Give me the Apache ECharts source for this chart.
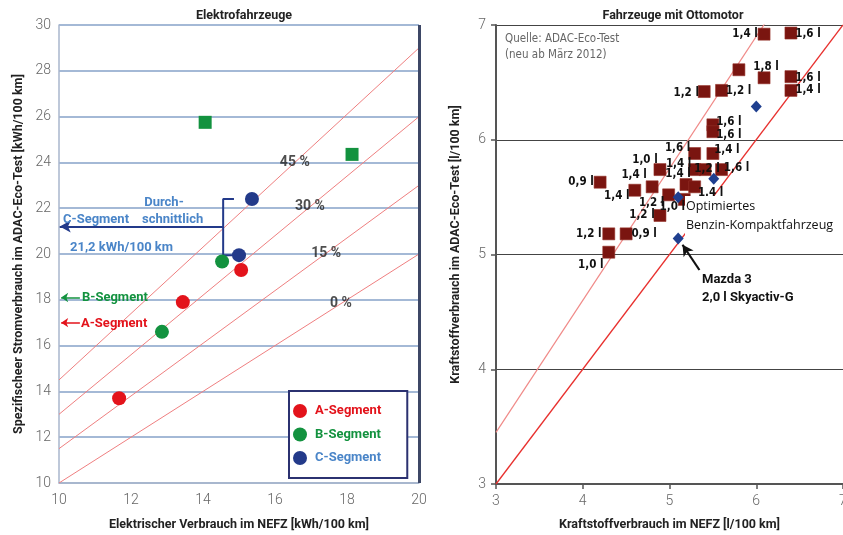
<!DOCTYPE html>
<html><head><meta charset="utf-8">
<script src="https://cdn.jsdelivr.net/npm/echarts@6/dist/echarts.min.js"></script>
<style>html,body{margin:0;padding:0;background:#fff}#c{width:843px;height:535px}</style>
</head><body><div id="c"></div>
<script>
// ---------- Left chart: Elektrofahrzeuge ----------
const pctLevels = [0, 15, 30, 45];              // % lines: ADAC = NEFZ * (1 + p)
const pctLabelX = [17.83, 17.42, 16.97, 16.55];  // where each % label sits on its line
const segA = [[11.67, 13.7], [13.44, 17.9], [15.06, 19.3]];
const segB = [[12.86, 16.6], [14.53, 19.67]];
const segBSquares = [[14.06, 25.75], [18.14, 24.35]];
const segC = [[15.0, 19.95], [15.36, 22.4]];
const segAvgA = 17.0, segAvgB = 18.1, segAvgC = 21.2;
const leftXRange = [10, 20];
const leftYRange = [10, 30];

// ---------- Right chart: Fahrzeuge mit Ottomotor ----------
const ottoNefz = [6.09, 6.40, 5.80, 6.09, 6.40, 6.40, 5.40, 5.60, 5.50, 5.50, 5.29, 5.50, 4.89, 5.29, 5.41, 5.60,
                  4.20, 4.60, 4.80, 4.99, 5.19, 5.29, 5.17, 4.89, 4.30, 4.50, 4.30];
const ottoEco  = [6.92, 6.93, 6.61, 6.54, 6.55, 6.43, 6.42, 6.43, 6.13, 6.07, 5.88, 5.88, 5.74, 5.74, 5.74, 5.74,
                  5.63, 5.56, 5.59, 5.52, 5.61, 5.59, 5.48, 5.34, 5.18, 5.18, 5.02];
const ottoDisp = ['1,4 l', '1,6 l', '', '1,8 l', '1,6 l', '1,4 l', '1,2 l', '1,2 l', '1,6 l', '1,6 l', '1,6 l', '1,4 l', '1,0 l', '1,4 l', '1,2 l', '1,6 l',
                  '0,9 l', '1,4 l', '1,4 l', '1,2 l', '1,4 l', '1,4 l', '1,0 l', '1,2 l', '1,2 l', '0,9 l', '1,0 l'];
const optNefz = [6.00, 5.51, 5.10, 5.10];
const optEco  = [6.29, 5.66, 5.50, 5.14];
const ratioLines = [1.0, 1.15];
const rightXRange = [3, 7];

// label placement (style only, pixel offsets from square centre)
const ottoLabelOffset = [[-19, 0], [17, 1], [0, 0], [2, -11], [17, 1], [17, 0], [-18, 1], [17, 1], [16, -3], [16, 3], [-17, -6], [14, -4], [-15, -10], [-16, -6], [2, -1], [15, -2],
                         [-19, 0], [-18, 6], [-18, -12], [-17, 8], [-8, -10], [16, 6], [-12, 8], [-18, 0], [-20, 0], [18, 0], [-18, 13]];

const RED = '#e3131b', GREEN = '#13923f', NAVY = '#233a8a', LBLUE = '#4a85c8';
const COND = '"DejaVu Sans Condensed","Roboto",sans-serif';
const SANS = 'Roboto, "Noto Sans", sans-serif';

const tickLabel = { color: '#666', fontSize: 14, fontFamily: SANS, fontWeight: 300 };
const nameStyle = { color: '#222', fontSize: 12.5, fontWeight: 'bold', fontFamily: SANS };

const series = [];
// percent lines (left)
pctLevels.forEach((p, i) => {
  series.push({
    type: 'line', xAxisIndex: 0, yAxisIndex: 0, silent: true, symbol: 'none', z: 1,
    data: leftXRange.map(x => [x, x * (1 + p / 100)]),
    lineStyle: { color: '#ef7f80', width: 1 },
    markLine: i === 0 ? {
      silent: true, symbol: 'none', label: { show: false },
      lineStyle: { color: '#3d4766', width: 3, type: 'solid' },
      data: [{ xAxis: leftXRange[1] }]
    } : undefined
  });
  series.push({
    type: 'scatter', xAxisIndex: 0, yAxisIndex: 0, silent: true, symbolSize: 0, z: 3,
    data: [[pctLabelX[i], pctLabelX[i] * (1 + p / 100)]],
    label: { show: true, position: 'inside', formatter: p + ' %', color: '#222', fontSize: 14, fontWeight: 'bold', fontFamily: SANS, offset: [0, 0] }
  });
});
const cTop = Math.max(...segC.map(d => d[1]));
const cBot = Math.min(...segC.map(d => d[1]));
// C bracket
series.push({
  type: 'line', xAxisIndex: 0, yAxisIndex: 0, silent: true, symbol: 'none', z: 2,
  data: [[14.86, cTop], [14.56, cTop], [14.56, cBot], [14.83, cBot]],
  lineStyle: { color: NAVY, width: 2 },
  markLine: {
    silent: true, symbol: ['none', 'arrow'], symbolSize: [9, 11], label: { show: false },
    lineStyle: { color: NAVY, width: 2, type: 'solid' },
    data: [[{ coord: [14.56, segAvgC] }, { coord: [leftXRange[0] + 0.02, segAvgC] }]]
  }
});
series.push({
  type: 'scatter', name: 'A-Segment', xAxisIndex: 0, yAxisIndex: 0, symbol: 'circle', symbolSize: 14, z: 5,
  data: segA, itemStyle: { color: RED, opacity: 1 },
  markLine: {
    silent: true, symbol: ['none', 'arrow'], symbolSize: [7, 7], label: { show: false },
    lineStyle: { color: RED, width: 1.5, type: 'solid' },
    data: [[{ coord: [10.58, segAvgA] }, { coord: [10.06, segAvgA] }]]
  }
});
series.push({
  type: 'scatter', name: 'B-Segment', xAxisIndex: 0, yAxisIndex: 0, symbol: 'circle', symbolSize: 14, z: 5,
  data: segB, itemStyle: { color: GREEN, opacity: 1 },
  markLine: {
    silent: true, symbol: ['none', 'arrow'], symbolSize: [7, 7], label: { show: false },
    lineStyle: { color: GREEN, width: 1.5, type: 'solid' },
    data: [[{ coord: [10.58, segAvgB] }, { coord: [10.06, segAvgB] }]]
  }
});
series.push({
  type: 'scatter', name: 'B-Segment (Quader)', xAxisIndex: 0, yAxisIndex: 0, symbol: 'rect', symbolSize: 13, z: 5,
  data: segBSquares, itemStyle: { color: GREEN, opacity: 1 }
});
series.push({
  type: 'scatter', name: 'C-Segment', xAxisIndex: 0, yAxisIndex: 0, symbol: 'circle', symbolSize: 14, z: 5,
  data: segC, itemStyle: { color: NAVY, opacity: 1 }
});

// right chart lines
ratioLines.forEach((r, i) => {
  series.push({
    type: 'line', xAxisIndex: 1, yAxisIndex: 1, silent: true, symbol: 'none', z: 1, clip: true,
    data: rightXRange.map(x => [x, x * r]),
    lineStyle: { color: i === 0 ? '#e8302e' : '#f08a88', width: i === 0 ? 1.3 : 1.2 }
  });
});
series.push({
  type: 'scatter', name: 'Otto', xAxisIndex: 1, yAxisIndex: 1, symbol: 'rect', symbolSize: 12, z: 4,
  itemStyle: { color: '#7a1510', borderColor: '#953028', borderWidth: 0.6, opacity: 1 },
  data: ottoNefz.map((x, i) => ({
    value: [x, ottoEco[i]],
    label: { show: ottoDisp[i] !== '', formatter: ottoDisp[i], offset: ottoLabelOffset[i] }
  })),
  label: { position: 'inside', color: '#111', fontSize: 11.5, fontWeight: 'bold', fontFamily: COND }
});
series.push({
  type: 'scatter', name: 'Optimiert', xAxisIndex: 1, yAxisIndex: 1, symbol: 'diamond', symbolSize: [11, 12], z: 6,
  itemStyle: { color: '#1f3f8f', opacity: 1 },
  data: optNefz.map((x, i) => [x, optEco[i]]),
  markLine: {
    silent: true, symbol: ['none', 'arrow'], symbolSize: [9, 11], label: { show: false },
    lineStyle: { color: '#111', width: 2.2, type: 'solid' },
    data: [[{ coord: [5.345, 4.865] }, { coord: [5.15, 5.085] }]]
  }
});

const option = {
  animation: false,
  backgroundColor: '#fff',
  title: [
    { text: 'Elektrofahrzeuge', left: 239, top: 4, textAlign: 'center', textStyle: { fontSize: 12.5, fontWeight: 'bold', color: '#222', fontFamily: SANS } },
    { text: 'Fahrzeuge mit Ottomotor', left: 668, top: 4, textAlign: 'center', textStyle: { fontSize: 12.5, fontWeight: 'bold', color: '#222', fontFamily: SANS } }
  ],
  grid: [
    { left: 59, top: 25, width: 360, height: 458, outerBoundsMode: 'none', containLabel: false },
    { left: 496, top: 25, width: 347, height: 459, outerBoundsMode: 'none', containLabel: false }
  ],
  xAxis: [
    { gridIndex: 0, type: 'value', min: leftXRange[0], max: leftXRange[1], interval: 2,
      axisLine: { lineStyle: { color: '#a9b6cc', width: 1.5 } }, axisTick: { show: false },
      axisLabel: Object.assign({ margin: 10 }, tickLabel), splitLine: { show: false },
      name: 'Elektrischer Verbrauch im NEFZ [kWh/100 km]', nameLocation: 'middle', nameGap: 35, nameTextStyle: nameStyle },
    { gridIndex: 1, type: 'value', min: rightXRange[0], max: rightXRange[1], interval: 1,
      axisLine: { lineStyle: { color: '#555', width: 2 } }, axisTick: { show: true, length: 5, lineStyle: { color: '#555', width: 1.5 } },
      axisLabel: Object.assign({ margin: 10 }, tickLabel), splitLine: { show: false },
      name: 'Kraftstoffverbrauch im NEFZ [l/100 km]', nameLocation: 'middle', nameGap: 34, nameTextStyle: nameStyle }
  ],
  yAxis: [
    { gridIndex: 0, type: 'value', min: leftYRange[0], max: leftYRange[1], interval: 2,
      axisLine: { show: true, lineStyle: { color: '#a9b6cc', width: 1.5 } }, axisTick: { show: false },
      axisLabel: Object.assign({ margin: 8 }, tickLabel),
      splitLine: { lineStyle: { color: '#86a2c9', width: 1.5 } },
      name: 'Spezifischeer Stromverbrauch im ADAC-Eco-Test [kWh/100 km]', nameLocation: 'middle', nameGap: 34, nameTextStyle: nameStyle },
    { gridIndex: 1, type: 'value', min: 3, max: 7, interval: 1,
      axisLine: { show: true, lineStyle: { color: '#555', width: 2 } }, axisTick: { show: true, length: 5, lineStyle: { color: '#555', width: 1.5 } },
      axisLabel: Object.assign({ margin: 10 }, tickLabel),
      splitLine: { lineStyle: { color: '#444', width: 1.2 } },
      name: 'Kraftstoffverbrauch im ADAC-Eco-Test [l/100 km]', nameLocation: 'middle', nameGap: 34, nameTextStyle: Object.assign({ padding: [0, 0, 0, 20] }, nameStyle) }
  ],
  legend: {
    data: [
      { name: 'A-Segment', textStyle: { color: RED } },
      { name: 'B-Segment', textStyle: { color: GREEN } },
      { name: 'C-Segment', textStyle: { color: LBLUE } }
    ],
    orient: 'vertical', left: 289, top: 391, icon: 'circle', itemWidth: 14, itemHeight: 14, itemGap: 9.5,
    padding: [13, 26, 13, 4], borderColor: '#2b3170', borderWidth: 2, backgroundColor: '#fff',
    selectedMode: false, z: 10,
    textStyle: { fontSize: 13, fontWeight: 'bold', fontFamily: SANS, padding: [0, 0, 0, 3] }
  },
  graphic: [
    { type: 'text', x: 164, y: 203, z: 20, style: { text: 'Durch-', fill: LBLUE, font: 'bold 13px ' + SANS, textAlign: 'center', textVerticalAlign: 'middle', align: 'center', verticalAlign: 'middle' } },
    { type: 'text', x: 63, y: 220, z: 20, style: { text: 'C-Segment', fill: LBLUE, font: 'bold 13px ' + SANS, textAlign: 'left', textVerticalAlign: 'middle', align: 'left', verticalAlign: 'middle' } },
    { type: 'text', x: 142, y: 220, z: 20, style: { text: 'schnittlich', fill: LBLUE, font: 'bold 13px ' + SANS, textAlign: 'left', textVerticalAlign: 'middle', align: 'left', verticalAlign: 'middle' } },
    { type: 'text', x: 70, y: 248, z: 20, style: { text: '21,2 kWh/100 km', fill: LBLUE, font: 'bold 13px ' + SANS, textAlign: 'left', textVerticalAlign: 'middle', align: 'left', verticalAlign: 'middle' } },
    { type: 'text', x: 82, y: 298, z: 20, style: { text: 'B-Segment', fill: GREEN, font: 'bold 13px ' + SANS, textAlign: 'left', textVerticalAlign: 'middle', align: 'left', verticalAlign: 'middle' } },
    { type: 'text', x: 81, y: 324, z: 20, style: { text: 'A-Segment', fill: RED, font: 'bold 13px ' + SANS, textAlign: 'left', textVerticalAlign: 'middle', align: 'left', verticalAlign: 'middle' } },
    { type: 'text', x: 505, y: 39, z: 20, style: { text: 'Quelle: ADAC-Eco-Test', fill: '#666', font: '11.5px ' + COND, textAlign: 'left', textVerticalAlign: 'middle', align: 'left', verticalAlign: 'middle' } },
    { type: 'text', x: 505, y: 55, z: 20, style: { text: '(neu ab März 2012)', fill: '#666', font: '11.5px ' + COND, textAlign: 'left', textVerticalAlign: 'middle', align: 'left', verticalAlign: 'middle' } },
    { type: 'text', x: 685, y: 196, z: 20, style: { text: 'Optimiertes\nBenzin-Kompaktfahrzeug', fill: '#111', font: '12.5px "Open Sans", sans-serif', lineHeight: 19, backgroundColor: '#fff', padding: [1, 2, 1, 1], textAlign: 'left', textVerticalAlign: 'top', align: 'left', verticalAlign: 'top' } },
    { type: 'text', x: 702, y: 280, z: 20, style: { text: 'Mazda 3', fill: '#111', font: 'bold 13px ' + SANS, textAlign: 'left', textVerticalAlign: 'middle', align: 'left', verticalAlign: 'middle' } },
    { type: 'text', x: 702, y: 298, z: 20, style: { text: '2,0 l Skyactiv-G', fill: '#111', font: 'bold 13px ' + SANS, textAlign: 'left', textVerticalAlign: 'middle', align: 'left', verticalAlign: 'middle' } }
  ],
  series: series
};
const chart = echarts.init(document.getElementById('c'), null, { renderer: 'canvas' });
chart.setOption(option);
</script>
</body></html>
